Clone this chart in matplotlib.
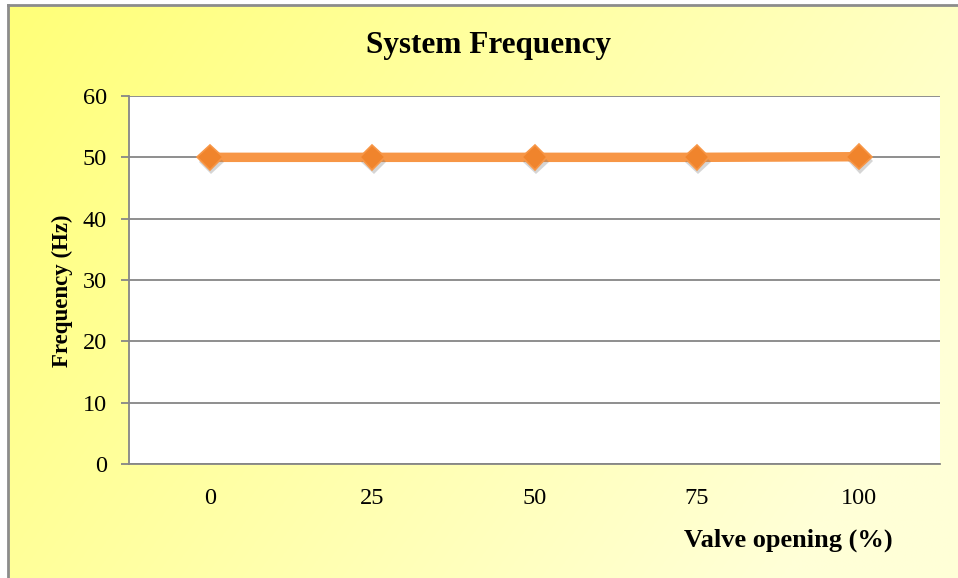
import numpy as np
import matplotlib
matplotlib.use("Agg")
import matplotlib.pyplot as plt
import matplotlib.patheffects as pe

plt.rcParams['font.family'] = ['Liberation Serif', 'DejaVu Serif']

valve_labels = ['0', '25', '50', '75', '100']
frequency = [50.0, 50.0, 50.0, 50.0, 50.1]
y_ticks = [0, 10, 20, 30, 40, 50, 60]

W, H = 958, 578
fig = plt.figure(figsize=(W / 100, H / 100), dpi=100)
fig.patch.set_facecolor('white')

# yellow gradient background with grey border on left/top
bg = fig.add_axes([8 / W, 0, 1 - 8 / W, 1 - 5 / H])
gx = np.linspace(0, 1, 300)
gy = np.linspace(0, 1, 200)
X, Y = np.meshgrid(gx, gy)
t = np.clip(0.8 * X + 0.35 * Y, 0, 1)
c0 = np.array([255, 255, 120]) / 255
c1 = np.array([255, 255, 215]) / 255
img = c0[None, None, :] * (1 - t[..., None]) + c1[None, None, :] * t[..., None]
bg.imshow(img, aspect='auto', extent=[0, 1, 0, 1], origin='upper')
bg.set_xlim(0, 1)
bg.set_ylim(0, 1)
bg.set_xticks([])
bg.set_yticks([])
for s in ['right', 'bottom']:
    bg.spines[s].set_visible(False)
for s in ['left', 'top']:
    bg.spines[s].set_color('#8c8c8c')
    bg.spines[s].set_linewidth(2)

ax = fig.add_axes([129 / W, 1 - 464 / H, (940 - 129) / W, (464 - 96) / H])
ax.set_facecolor('white')
ax.set_zorder(2)

x = np.arange(len(valve_labels))
ax.plot(x, frequency, color='#F79646', linewidth=6.8, solid_capstyle='butt', zorder=3)
ax.plot(x, frequency, linestyle='none', marker='D', markersize=13,
        markerfacecolor='#F0842C', markeredgecolor='#F79646', markeredgewidth=1.2,
        zorder=4,
        path_effects=[pe.SimplePatchShadow(offset=(1, -3), shadow_rgbFace='#777777', alpha=0.3),
                      pe.Normal()])

ax.set_xlim(-0.5, len(valve_labels) - 0.5)
ax.set_ylim(0, 60)
ax.set_xticks(x)
ax.set_xticklabels(valve_labels)
ax.set_yticks(y_ticks)
ax.yaxis.grid(True, color='#868686', linewidth=1.3)
ax.set_axisbelow(True)
ax.tick_params(axis='x', length=0, pad=17, labelsize=17.5)
ax.tick_params(axis='y', length=6, width=1.3, color='#868686', pad=10, labelsize=17.5)
for s in ['top', 'right']:
    ax.spines[s].set_visible(False)
for s in ['left', 'bottom']:
    ax.spines[s].set_color('#868686')
    ax.spines[s].set_linewidth(1.3)

fig.text(488 / W, 1 - 45 / H, 'System Frequency', ha='center', va='center',
         fontsize=22.5, fontweight='bold')
fig.text(62 / W, 1 - 291 / H, 'Frequency (Hz)', ha='center', va='center',
         rotation=90, fontsize=16.5, fontweight='bold')
fig.text(893 / W, 1 - 540 / H, 'Valve opening (%)', ha='right', va='center',
         fontsize=19, fontweight='bold')

fig.savefig('out.png', dpi=100)
